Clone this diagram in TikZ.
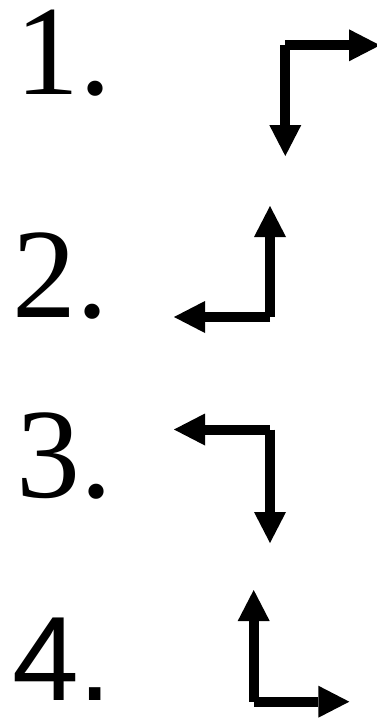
\documentclass[tikz,border=0pt]{standalone}
\usepackage{fontspec}
\setmainfont{Liberation Serif}
\newfontfamily\sansf{Liberation Sans}
\usetikzlibrary{arrows.meta}
\tikzset{
  bar/.style={line width=10pt, line cap=butt, -{Triangle[length=31pt,width=32pt,line width=0pt]}},
  numlabel/.style={anchor=base west, inner sep=0pt, text height=88pt, text depth=0pt, font=\fontsize{128}{130}\selectfont},
  numlabelsans/.style={anchor=base west, inner sep=0pt, text height=88pt, text depth=0pt, font=\sansf\fontsize{120}{122}\selectfont}
}
\begin{document}
\begin{tikzpicture}[x=1pt,y=-1pt]
\useasboundingbox (0,0) rectangle (376,720);
% labels
\node[numlabel] (n1) at (15,94) {1.};
\node[numlabel] (n2) at (12,317.3) {2.};
\node[numlabel] (n3) at (16,497) {3.};
\node[numlabelsans] (n4) at (12,700.7) {4.};
% arrow 1
\coordinate (c1) at (285.3,45.3);
\coordinate (t1a) at (285.3,156);
\coordinate (t1b) at (380,45.3);
\draw[bar] (c1) -- (t1a);
\draw[bar] (c1) -- (t1b);
% arrow 2
\coordinate (c2) at (270,317);
\coordinate (t2a) at (270,206);
\coordinate (t2b) at (174,317);
\draw[bar] (c2) -- (t2a);
\draw[bar] (c2) -- (t2b);
% arrow 3
\coordinate (c3) at (270,429.5);
\coordinate (t3a) at (174,429.5);
\coordinate (t3b) at (270,543);
\draw[bar] (c3) -- (t3a);
\draw[bar] (c3) -- (t3b);
% arrow 4
\coordinate (c4) at (253.7,701.7);
\coordinate (t4a) at (253.7,590);
\coordinate (t4b) at (349.3,701.7);
\draw[bar] (c4) -- (t4a);
\draw[bar] (c4) -- (t4b);
\end{tikzpicture}
\end{document}
